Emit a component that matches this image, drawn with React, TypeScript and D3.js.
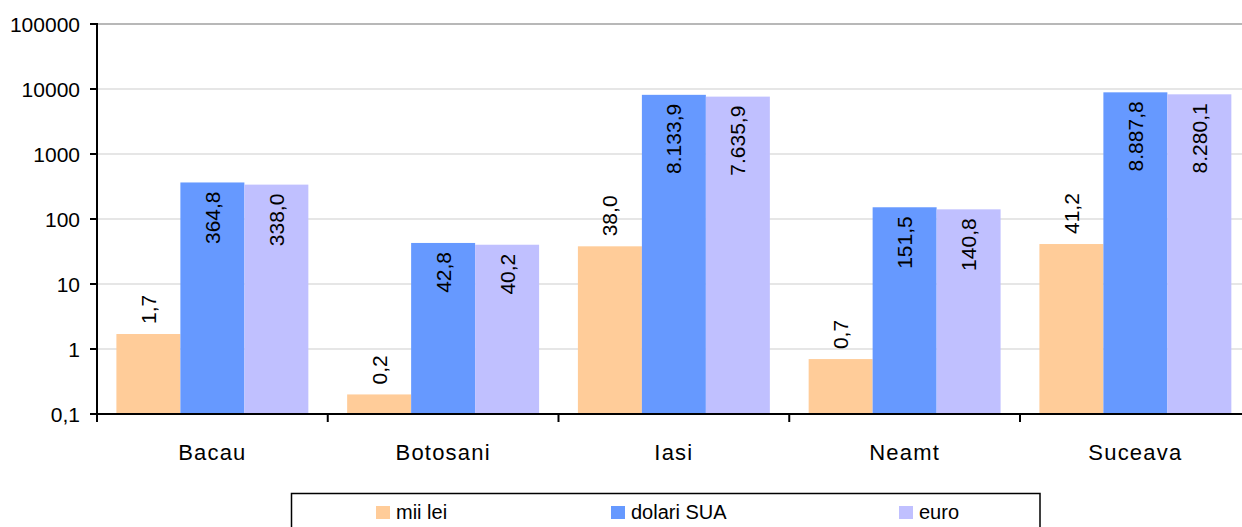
import React from "react";
import * as d3 from "d3";

const categories = ["Bacau", "Botosani", "Iasi", "Neamt", "Suceava"];
const seriesNames = ["mii lei", "dolari SUA", "euro"];
const miiLei = [1.7, 0.2, 38.0, 0.7, 41.2];
const dolariSUA = [364.8, 42.8, 8133.9, 151.5, 8887.8];
const euro = [338.0, 40.2, 7635.9, 140.8, 8280.1];
const yTicks = [0.1, 1, 10, 100, 1000, 10000, 100000];
const yTickLabels = ["0,1", "1", "10", "100", "1000", "10000", "100000"];

const colors = ["#FFCC99", "#6699FF", "#C0C0FF"];
const labelInside = [false, true, true];
const FONT = "'Liberation Sans', Arial, sans-serif";

const ro = d3.formatLocale({ decimal: ",", thousands: ".", grouping: [3], currency: ["", ""] });
const fmt = ro.format(",.1f");

export default function App() {
  const W = 1242;
  const H = 527;
  const left = 97;
  const catW = 230.75;
  const yTop = 24;
  const yBottom = 414;

  const y = d3.scaleLog().domain([0.1, 100000]).range([yBottom, yTop]);
  const x0 = d3
    .scaleBand<string>()
    .domain(categories)
    .range([left, left + catW * categories.length])
    .padding(0);
  const groupPad = 19.4;
  const x1 = d3
    .scaleBand<string>()
    .domain(seriesNames)
    .range([groupPad, x0.bandwidth() - groupPad])
    .padding(0);

  const data = [miiLei, dolariSUA, euro];

  const legendItems = [376, 611, 899];

  return (
    <svg
      width={W}
      height={H}
      style={{ position: "absolute", left: 0, top: 0, background: "#fff" }}
      fontFamily={FONT}
    >
      <rect x={0} y={0} width={W} height={H} fill="#fff" />
      {yTicks.map((t, i) => (
        <line
          key={"g" + i}
          x1={left}
          x2={W}
          y1={y(t)}
          y2={y(t)}
          stroke={i === yTicks.length - 1 ? "#B8B8B8" : "#E6E6E6"}
          strokeWidth={2}
        />
      ))}
      {data.map((vals, s) =>
        vals.map((v, c) => {
          const bx = (x0(categories[c]) as number) + (x1(seriesNames[s]) as number);
          const bw = x1.bandwidth();
          const by = y(v);
          return (
            <rect
              key={`b${s}-${c}`}
              x={bx}
              y={by}
              width={bw}
              height={yBottom - by}
              fill={colors[s]}
            />
          );
        })
      )}
      {data.map((vals, s) =>
        vals.map((v, c) => {
          const cx =
            (x0(categories[c]) as number) + (x1(seriesNames[s]) as number) + x1.bandwidth() / 2;
          const by = y(v);
          const inside = labelInside[s];
          const ty = inside ? by + 9 : by - 10;
          return (
            <text
              key={`l${s}-${c}`}
              transform={`translate(${cx},${ty}) rotate(-90)`}
              textAnchor={inside ? "end" : "start"}
              dominantBaseline="central"
              fontSize={21}
              fill="#000"
            >
              {fmt(v)}
            </text>
          );
        })
      )}
      <line x1={left} x2={left} y1={yTop - 1} y2={yBottom + 1} stroke="#000" strokeWidth={2} />
      {yTicks.map((t, i) => (
        <g key={"yt" + i}>
          <line x1={left - 7} x2={left} y1={y(t)} y2={y(t)} stroke="#000" strokeWidth={2} />
          <text
            x={80}
            y={y(t)}
            textAnchor="end"
            dominantBaseline="central"
            fontSize={21}
            fill="#000"
          >
            {yTickLabels[i]}
          </text>
        </g>
      ))}
      <line x1={left} x2={W} y1={yBottom} y2={yBottom} stroke="#000" strokeWidth={2} />
      {categories.map((c, i) => (
        <line
          key={"xt" + i}
          x1={x0(c) as number}
          x2={x0(c) as number}
          y1={yBottom}
          y2={yBottom + 8}
          stroke="#000"
          strokeWidth={2}
        />
      ))}
      {categories.map((c) => (
        <text
          key={"xl" + c}
          x={(x0(c) as number) + x0.bandwidth() / 2}
          y={460}
          textAnchor="middle"
          fontSize={22}
          letterSpacing={1.2}
          fill="#000"
        >
          {c}
        </text>
      ))}
      <rect x={291.5} y={493.5} width={748.5} height={60} fill="#fff" stroke="#000" strokeWidth={1.5} />
      {seriesNames.map((n, i) => (
        <g key={"lg" + i}>
          <rect x={legendItems[i]} y={506} width={14} height={13} fill={colors[i]} />
          <text x={legendItems[i] + 20} y={519} fontSize={20} fill="#000">
            {n}
          </text>
        </g>
      ))}
    </svg>
  );
}
